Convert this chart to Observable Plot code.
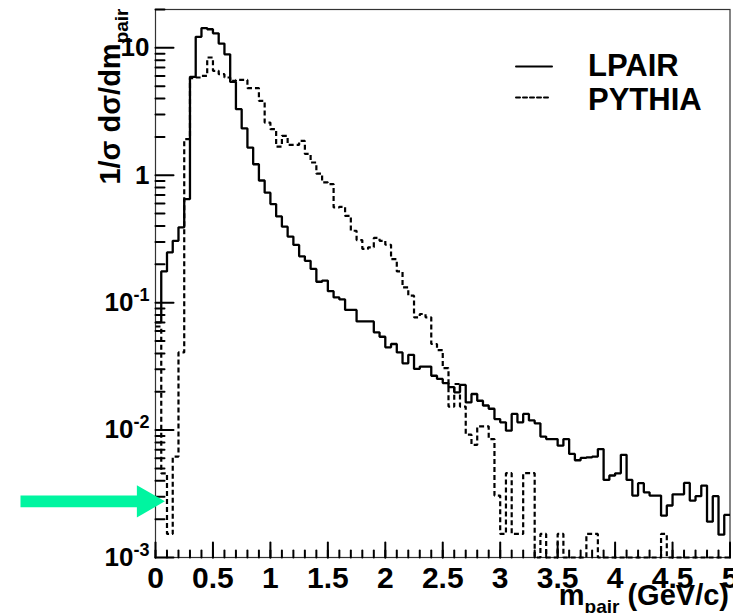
<!DOCTYPE html>
<html>
<head>
<meta charset="utf-8">
<script src="https://cdn.jsdelivr.net/npm/d3@7"></script>
<script src="https://cdn.jsdelivr.net/npm/@observablehq/plot@0.6"></script>
<style>
  body { margin: 0; background: #fff; }
</style>
</head>
<body>
<div id="chart"></div>
<script>
// ---- histogram binning (lower bin edges, GeV/c) ----
const binLowEdges = [
  0,0.05,0.1,0.15,0.2,0.25,0.3,0.35,0.4,0.45,0.5,0.55,0.6,0.65,0.7,0.75,0.8,0.85,0.9,0.95,
  1,1.05,1.1,1.15,1.2,1.25,1.3,1.35,1.4,1.45,1.5,1.55,1.6,1.65,1.7,1.75,1.8,1.85,1.9,1.95,
  2,2.05,2.1,2.15,2.2,2.25,2.3,2.35,2.4,2.45,2.5,2.55,2.6,2.65,2.7,2.75,2.8,2.85,2.9,2.95,
  3,3.05,3.1,3.15,3.2,3.25,3.3,3.35,3.4,3.45,3.5,3.55,3.6,3.65,3.7,3.75,3.8,3.85,3.9,3.95,
  4,4.05,4.1,4.15,4.2,4.25,4.3,4.35,4.4,4.45,4.5,4.55,4.6,4.65,4.7,4.75,4.8,4.85,4.9,4.95
];
const massMax = 5;

// ---- series values: 1/sigma dsigma/dm_pair ----
const lpair = [
  0.070,0.176,0.248,0.306,0.39,0.65,5.92,12.2,14.3,14.0,
  13.0,10.8,8.9,5.4,3.3,2.33,1.65,1.22,0.91,0.73,
  0.594,0.475,0.395,0.33,0.284,0.231,0.213,0.184,0.146,0.149,
  0.123,0.110,0.106,0.0877,0.0877,0.0713,0.0713,0.0713,0.0585,0.054,
  0.0446,0.0474,0.0407,0.0334,0.039,0.0302,0.0315,0.0315,0.0267,0.0252,
  0.0234,0.0217,0.0198,0.0226,0.0165,0.0192,0.017,0.0156,0.0147,0.0122,
  0.0115,0.0099,0.0134,0.0115,0.0134,0.0119,0.0113,0.0089,0.0085,0.0085,
  0.00755,0.0085,0.0065,0.0058,0.00605,0.0061,0.0062,0.0071,0.00406,0.0044,
  0.00458,0.0064,0.00406,0.00306,0.00383,0.00325,0.00306,0.00306,0.00213,0.00256,
  0.00313,0.00313,0.00385,0.0028,0.00303,0.00367,0.00191,0.00303,0.00151,0.00216
];
const pythia = [
  0.065,0.00458,0.00153,0.0062,0.0407,1.92,5.79,5.85,6.03,8.4,
  6.6,6.22,5.85,5.5,5.6,5.6,4.83,4.83,3.84,2.59,
  2.30,1.68,2.04,1.73,1.73,1.86,1.47,1.26,1.03,0.88,
  0.853,0.559,0.565,0.48,0.367,0.31,0.264,0.272,0.322,0.306,
  0.285,0.22,0.176,0.132,0.1135,0.0767,0.0815,0.0767,0.0474,0.0425,
  0.0306,0.0153,0.023,0.0153,0.0092,0.00765,0.0107,0.0107,0.0085,0.00306,
  0.00153,0.00459,0.00153,0.00153,0.00459,0.00459,0,0.00153,0,0,
  0.00153,0,0,0,0,0.00153,0.00153,0,0,0,
  0,0,0,0,0,0,0,0,0.00153,0,
  0,0,0,0,0,0,0,0,0,0
];

const seriesNames = ["LPAIR", "PYTHIA"];

// ---- ticks ----
const xMajorTicks = [0,0.5,1,1.5,2,2.5,3,3.5,4,4.5,5];
const xTickLabels = ["0","0.5","1","1.5","2","2.5","3","3.5","4","4.5","5"];
const xMinorTicks = [
  0,0.1,0.2,0.3,0.4,0.5,0.6,0.7,0.8,0.9,1,1.1,1.2,1.3,1.4,1.5,1.6,1.7,1.8,1.9,
  2,2.1,2.2,2.3,2.4,2.5,2.6,2.7,2.8,2.9,3,3.1,3.2,3.3,3.4,3.5,3.6,3.7,3.8,3.9,
  4,4.1,4.2,4.3,4.4,4.5,4.6,4.7,4.8,4.9,5
];
const yMajorTicks = [0.001, 0.01, 0.1, 1, 10];
const yTickLabels = ["10^-3", "10^-2", "10^-1", "1", "10"];
const yMinorTicks = [];
for (const dec of yMajorTicks) for (let k = 2; k <= 9; k++) { const v = k * dec; if (v <= 20) yMinorTicks.push(v); }

// ---- annotation arrow (data units) ----
const arrowShaft = [{m: -1.175, v: 0.00276}, {m: -0.16, v: 0.00276}];
const arrowHead = [{m: -0.081, v: 0.00276}];
const arrowColor = "#00f5a0";

const xTitle = "m_pair (GeV/c)";
const yTitle = "1/σ dσ/dm_pair";

function histRows(values) {
  const rows = binLowEdges.map((m, i) => ({m, v: values[i]}));
  rows.push({m: massMax, v: values[values.length - 1]});
  return rows;
}

const xLabelMap = new Map(xMajorTicks.map((d, i) => [d, xTickLabels[i]]));
const yLabelMap = new Map(yMajorTicks.map((d, i) => [d, yTickLabels[i]]));
const lineShape = { draw(context, l) { context.moveTo(0, 0); context.lineTo(0, -l); } };

const FONT = "'Liberation Sans', Arial, Helvetica, sans-serif";
const tickStyle = {anchor: "start", shape: lineShape, stroke: "black", strokeWidth: 2};

const chart = Plot.plot({
  width: 733,
  height: 613,
  marginLeft: 155,
  marginRight: 3.5,
  marginTop: 9,
  marginBottom: 56,
  style: {fontFamily: FONT, fontWeight: "bold", fontSize: "26px", background: "#fff", color: "#000", overflow: "visible"},
  x: {domain: [0, 5]},
  y: {type: "log", domain: [1e-3, 20], clamp: true},
  marks: [
    Plot.frame({stroke: "#333", strokeWidth: 1.2}),
    // inward ticks along the bottom and left of the frame
    Plot.vector(xMinorTicks, {x: d => d, frameAnchor: "bottom", length: 7, rotate: 0, ...tickStyle}),
    Plot.vector(xMajorTicks, {x: d => d, frameAnchor: "bottom", length: 15, rotate: 0, ...tickStyle}),
    Plot.vector(yMinorTicks, {y: d => d, frameAnchor: "left", length: 9, rotate: 90, ...tickStyle}),
    Plot.vector(yMajorTicks, {y: d => d, frameAnchor: "left", length: 18, rotate: 90, ...tickStyle}),
    // tick labels
    Plot.axisX(xMajorTicks, {anchor: "bottom", tickSize: 0, tickPadding: 9, tickFormat: d => xLabelMap.get(d), label: null, fontSize: 30}),
    Plot.axisY(yMajorTicks, {anchor: "left", tickSize: 0, tickPadding: 6, tickFormat: d => yLabelMap.get(d), label: null, fontSize: 26}),
    // histograms
    Plot.line(histRows(pythia), {x: "m", y: "v", curve: "step-after", stroke: "#000", strokeWidth: 2.2, strokeDasharray: "5,3", strokeLinecap: "butt", strokeLinejoin: "miter"}),
    Plot.line(histRows(lpair), {x: "m", y: "v", curve: "step-after", stroke: "#000", strokeWidth: 2.3, strokeLinecap: "butt", strokeLinejoin: "miter"}),
    // legend
    Plot.vector([seriesNames[0]], {frameAnchor: "top-right", dx: -214, dy: 57, length: 36, rotate: 90, anchor: "start", shape: lineShape, stroke: "#000", strokeWidth: 2}),
    Plot.vector([seriesNames[1]], {frameAnchor: "top-right", dx: -214, dy: 88, length: 35, rotate: 90, anchor: "start", shape: lineShape, stroke: "#000", strokeWidth: 2, strokeDasharray: "4,3"}),
    Plot.text([seriesNames[0]], {text: d => d, frameAnchor: "top-right", dx: -142, dy: 57, textAnchor: "start", lineAnchor: "middle", fontSize: 31}),
    Plot.text([seriesNames[1]], {text: d => d, frameAnchor: "top-right", dx: -142, dy: 91, textAnchor: "start", lineAnchor: "middle", fontSize: 31}),
    // axis titles
    Plot.text([yTitle], {text: d => d, frameAnchor: "top-left", rotate: -90, dx: -36, dy: -1, textAnchor: "end", lineAnchor: "bottom", fontSize: 29}),
    Plot.text([xTitle], {text: d => d, frameAnchor: "bottom-right", dx: -1, dy: 47, textAnchor: "end", lineAnchor: "bottom", fontSize: 29}),
    // arrow annotation
    Plot.line(arrowShaft, {x: "m", y: "v", stroke: arrowColor, strokeWidth: 11.7, strokeLinecap: "butt"}),
    Plot.dot(arrowHead, {x: "m", y: "v", symbol: "triangle", r: 12, rotate: 90, fill: arrowColor, stroke: "none"})
  ]
});

// superscripts / subscripts as real text
d3.select(chart).selectAll("text").each(function () {
  const t = this.textContent;
  const sel = d3.select(this);
  if (t.includes("^")) {
    const [base, sup] = t.split("^");
    sel.text(null);
    sel.append("tspan").text(base);
    sel.append("tspan").attr("dy", "-10").attr("font-size", "18px").text(sup);
  } else if (t.includes("_pair")) {
    const [base, rest] = t.split("_pair");
    sel.text(null);
    sel.append("tspan").text(base);
    sel.append("tspan").attr("dy", "8").attr("font-size", "19px").text("pair");
    if (rest) sel.append("tspan").attr("dy", "-8").text(rest);
  }
});

document.getElementById("chart").appendChild(chart);
</script>
</body>
</html>
